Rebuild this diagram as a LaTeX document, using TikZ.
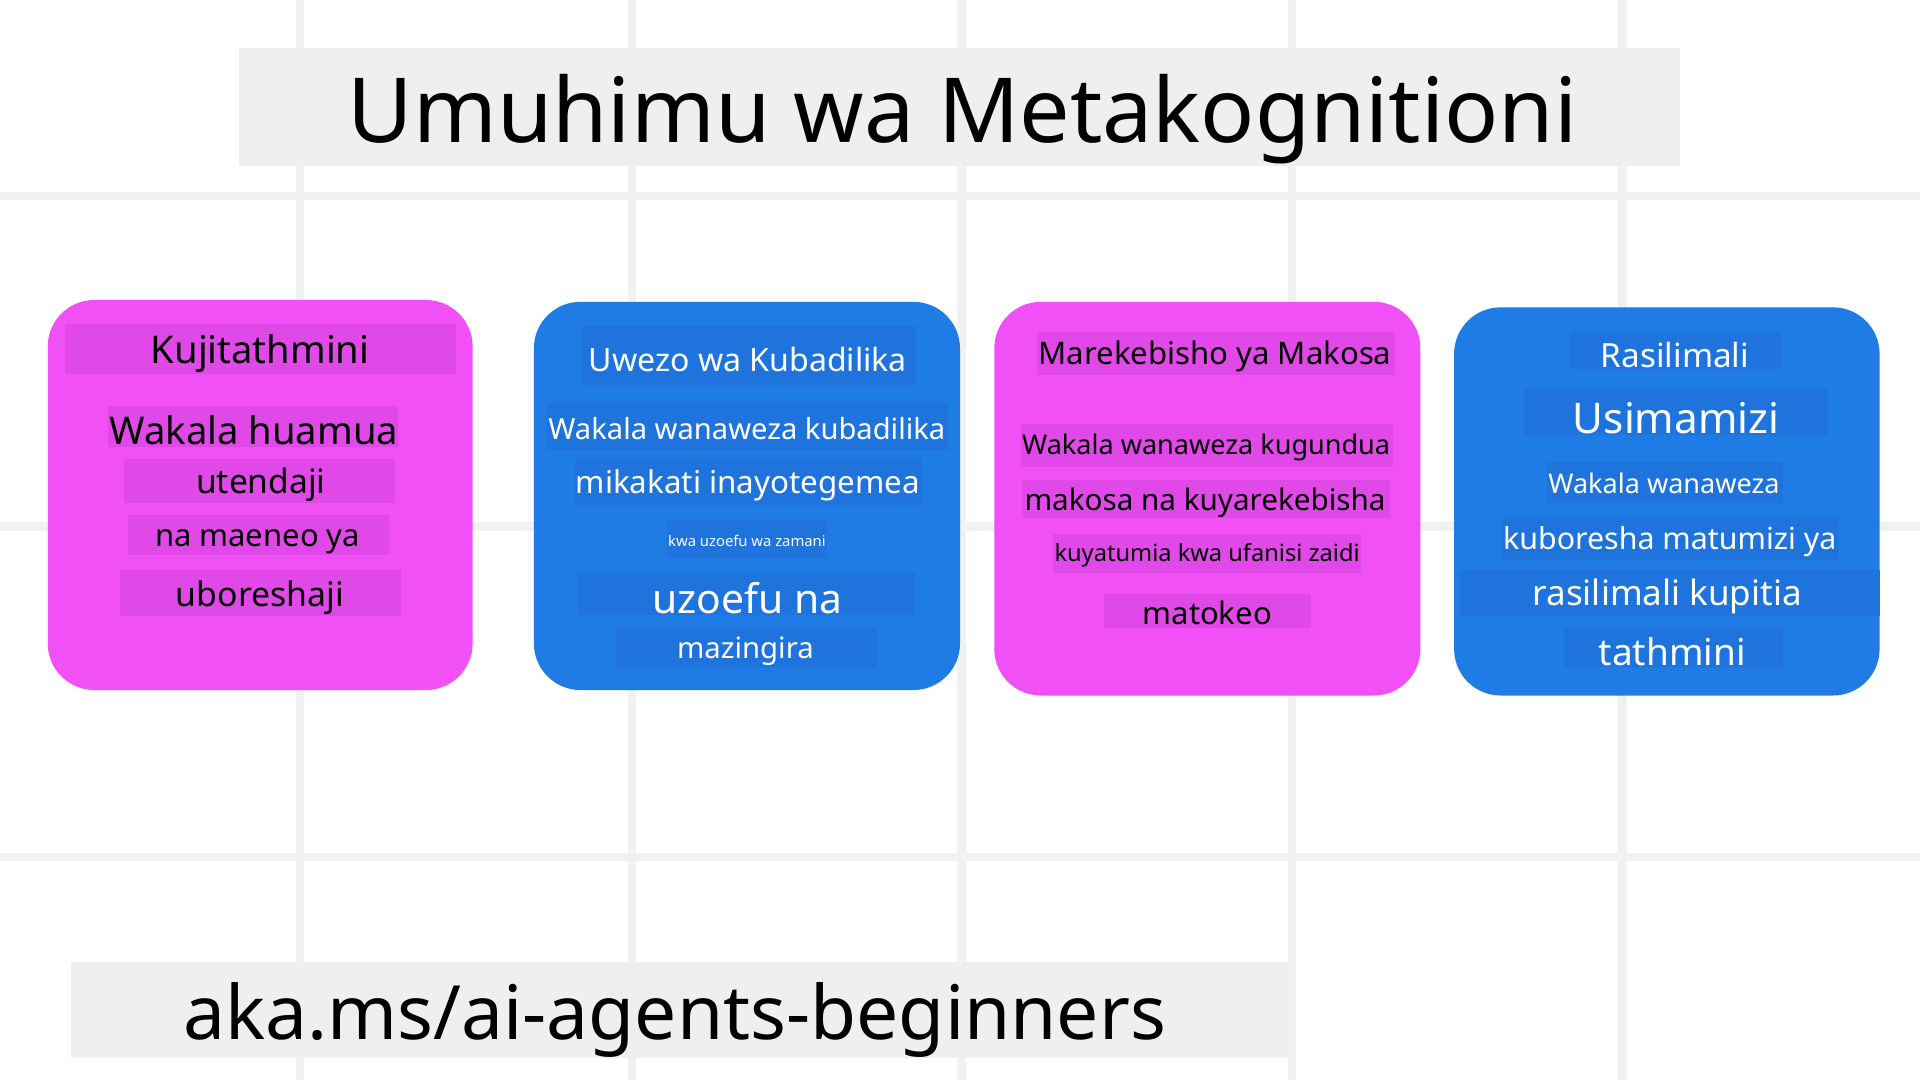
\documentclass[tikz,border=0pt]{standalone}
\usepackage{fontspec}
\setmainfont{Noto Sans}
\definecolor{gridgray}{HTML}{F1F1F1}
\definecolor{bandgray}{HTML}{EFEFEF}
\definecolor{boxpink}{HTML}{F050F5}
\definecolor{patchpink}{HTML}{E048E8}
\definecolor{boxblue}{HTML}{207CE5}
\definecolor{patchblue}{HTML}{1E74DC}
\begin{document}
\begin{tikzpicture}[x=1pt, y=-1pt,
	gridline/.style={gridgray, line width=7pt},
	card/.style={rounded corners=38pt},
	lbl/.style={anchor=base, inner sep=0pt}]

	\useasboundingbox (0,0) rectangle (1568,882);
	\fill[white] (0,0) rectangle (1568,882);

	% background grid
	\foreach \gx in {245,516,785,1055,1325}{
		\draw[gridline] (\gx,0) -- (\gx,882);
	}
	\foreach \gy in {160,430,700}{
		\draw[gridline] (0,\gy) -- (1568,\gy);
	}

	% title and link bands
	\fill[bandgray] (195,39.5) rectangle (1372,135.5);
	\node[lbl, font=\fontsize{73.3}{80}\selectfont] (title) at (786,116.5) {Umuhimu wa Metakognitioni};
	\fill[bandgray] (58,786) rectangle (1056,864);
	\node[lbl, font=\fontsize{61.2}{70}\selectfont] (link) at (551,849) {aka.ms/ai-agents-beginners};

	% cards
	\fill[boxpink, card] (39,245) rectangle (386,563.5);
	\fill[boxblue, card] (436,246.5) rectangle (784,563.5);
	\fill[boxpink, card] (812,246.5) rectangle (1160,568);
	\fill[boxblue, card] (1187.5,251) rectangle (1535,568);

	% pink card texts
	\foreach \nm/\px/\py/\qx/\qy/\tx/\ty/\fs/\txt in {
		kuji1/53/265/372/305.4/212.4/296.7/31.2/Kujitathmini,
		kuji2/88.6/331.3/325/364.8/207.3/363.4/31.2/Wakala huamua,
		kuji3/101.5/374.8/322.6/411/213/403/27.4/utendaji,
		kuji4/104.5/420.6/318/453/210.3/446/25.3/na maeneo ya,
		kuji5/98/465.5/327.5/503/212.3/495/27.6/uboreshaji,
		mare1/846.5/271.4/1139.3/306.2/992.3/297.3/25.4/Marekebisho ya Makosa,
		mare2/833.5/346.3/1137.4/381.6/985/370.8/22.1/Wakala wanaweza kugundua,
		mare3/834.6/392/1135.5/423.3/984.1/416.5/24.2/makosa na kuyarekebisha,
		mare4/859.7/436.1/1111.5/467.7/985.8/458.7/19.3/kuyatumia kwa ufanisi zaidi,
		mare5/901.6/485.1/1070.6/512.6/985.9/510.4/25.3/matokeo}{
		\fill[patchpink] (\px,\py) rectangle (\qx,\qy);
		\node[lbl, text=black, font=\fontsize{\fs}{\fs}\selectfont] (\nm) at (\tx,\ty) {\txt};
	}

	% blue card texts
	\foreach \nm/\px/\py/\qx/\qy/\tx/\ty/\fs/\txt in {
		uwezo1/474.5/266/748/314.5/610.7/303.5/26.2/Uwezo wa Kubadilika,
		uwezo2/446.5/329.4/773.8/367.5/609.9/359.3/23.8/Wakala wanaweza kubadilika,
		uwezo3/469.6/375/752.7/412.4/610.8/402.9/25.6/mikakati inayotegemea,
		uwezo4/545/424.7/675.6/456/610/445.9/12.1/kwa uzoefu wa zamani,
		uwezo5/472.3/468.2/747.2/502/610.2/500.9/33.3/uzoefu na,
		uwezo6/502.8/513.1/716/544.4/608.7/537.6/23.9/mazingira,
		rasi1/1282.2/271.4/1454.2/301.3/1367.9/300.3/27.2/Rasilimali,
		rasi2/1244.8/317.7/1493.1/355.2/1368.8/353.9/34.5/Usimamizi,
		rasi3/1263/377/1455.8/411/1358.9/403.4/22.1/Wakala wanaweza,
		rasi4/1226.3/422.5/1501.3/457.3/1363.6/448.6/24.8/kuboresha matumizi ya,
		rasi5/1192.3/465.5/1535/502.8/1361.6/494.1/28.6/rasilimali kupitia,
		rasi6/1277.3/513.1/1455.8/544.5/1365.6/543.1/30.2/tathmini}{
		\fill[patchblue] (\px,\py) rectangle (\qx,\qy);
		\node[lbl, text=white, font=\fontsize{\fs}{\fs}\selectfont] (\nm) at (\tx,\ty) {\txt};
	}

\end{tikzpicture}
\end{document}
